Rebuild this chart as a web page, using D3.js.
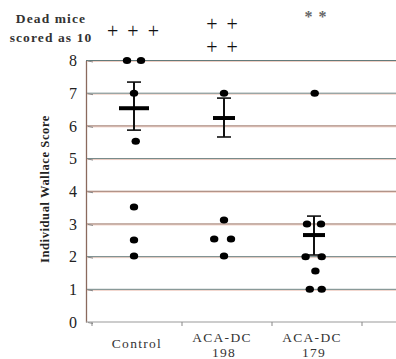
<!DOCTYPE html>
<html>
<head>
<meta charset="utf-8">
<script src="https://cdn.jsdelivr.net/npm/d3@7"></script>
<style>
  body { margin: 0; background: #fff; }
  svg { display: block; }
</style>
</head>
<body>
<div class="container"></div>
<script>
// categories on the x axis (last slot is empty)
const groups = ["Control", "ACA-DC|198", "ACA-DC|179", ""];
const yTicks = [0, 1, 2, 3, 4, 5, 6, 7, 8];

// individual scores: [value, horizontal slot]
const controlDots = [[8, -1], [8, 1], [7, 0], [5.53, 0.25], [3.52, 0], [2.51, 0], [2.02, 0]];
const dc198Dots = [[7, 0], [3.12, 0], [2.54, -1.4], [2.54, 1], [2.02, 0]];
const dc179Dots = [[7, 0.1], [3, -1], [3, 1], [2, -1.2], [2, 1.1], [1.56, 0.2], [1, -0.6], [1, 1.1]];
const dotsByGroup = [controlDots, dc198Dots, dc179Dots];

// mean and error bars
const means = [6.54, 6.24, 2.66];
const upper = [7.34, 6.85, 3.24];
const lower = [5.87, 5.66, 2.05];

// marks above the plot
const deadMarks = [["+ + +"], ["+ +", "+ +"], []];
const sigMarks = ["", "", "* *"];

const W = 396, H = 359;
const M = { left: 86, right: 0, top: 60, bottom: 37 };
const SERIF = "Liberation Serif";

const svg = d3.select(".container")
  .append("svg")
  .attr("xmlns", "http://www.w3.org/2000/svg")
  .attr("width", W)
  .attr("height", H)
  .attr("viewBox", `0 0 ${W} ${H}`);

svg.append("rect")
  .attr("width", W).attr("height", H)
  .attr("fill", "#fff");

const y = d3.scaleLinear()
  .domain([0, 8])
  .range([322, 60.5]);

const x = d3.scaleBand()
  .domain(groups)
  .range([92, 452])
  .padding(0);

const cx = g => x(g) + x.bandwidth() / 2 - 3;
const slot = d3.scaleLinear().domain([-1, 1]).range([-7, 7]);

// grid lines (grey-teal with a faint rust edge)
const gridCol = ["#6f8484", "#6f8484", "#6f8484", "#9a7466", "#9a7466", "#6f8484", "#9a7466", "#6f8484", "#637a7a"];
svg.append("g")
  .selectAll("line")
  .data(yTicks.filter(d => d > 0))
  .join("line")
  .attr("x1", M.left).attr("x2", W)
  .attr("y1", d => y(d) + 1).attr("y2", d => y(d) + 1)
  .attr("stroke", "#efcfc4")
  .attr("stroke-width", 1);
svg.append("g")
  .selectAll("line")
  .data(yTicks.filter(d => d > 0))
  .join("line")
  .attr("x1", M.left).attr("x2", W)
  .attr("y1", d => y(d)).attr("y2", d => y(d))
  .attr("stroke", d => gridCol[d])
  .attr("stroke-width", 1);

// Y axis
const yAxis = svg.append("g")
  .attr("transform", `translate(${M.left},0)`)
  .call(d3.axisLeft(y).tickValues(yTicks).tickSize(0).tickPadding(9))
  .attr("font-family", SERIF)
  .attr("font-size", 16);
yAxis.select(".domain").attr("stroke", "#8a6a5e").attr("stroke-width", 1.3);
yAxis.selectAll("text").attr("fill", "#222");
// little tick stubs right of the axis
yAxis.selectAll(".tick")
  .append("line")
  .attr("x1", 2).attr("x2", 7)
  .attr("y1", 0).attr("y2", 1)
  .attr("stroke", "#888");

// X axis
const xAxis = svg.append("g")
  .attr("transform", `translate(0,${y(0)})`);
xAxis.append("line")
  .attr("x1", M.left).attr("x2", W)
  .attr("stroke", "#999").attr("stroke-width", 1.2);
xAxis.selectAll("line.tk")
  .data(groups)
  .join("line")
  .attr("x1", d => x(d)).attr("x2", d => x(d))
  .attr("y1", 0).attr("y2", 4)
  .attr("stroke", "#888");

// x labels
groups.slice(0, 3).forEach((g, i) => {
  const parts = g.split("|");
  const t = svg.append("text")
    .attr("x", cx(g) + (i === 0 ? 3 : -2))
    .attr("text-anchor", "middle")
    .attr("font-family", SERIF)
    .attr("font-size", 13.5)
    .attr("letter-spacing", 1.3)
    .attr("fill", "#333");
  if (parts.length === 1) {
    t.attr("y", 348).text(parts[0]);
  } else {
    t.append("tspan").attr("x", cx(g) - 2).attr("y", 342).text(parts[0]);
    t.append("tspan").attr("x", cx(g)).attr("y", 357).text(parts[1]);
  }
});

// y title
svg.append("text")
  .attr("transform", "translate(49,189) rotate(-90)")
  .attr("text-anchor", "middle")
  .attr("font-family", SERIF)
  .attr("font-weight", "bold")
  .attr("font-size", 12.5)
  .attr("letter-spacing", 0.6)
  .attr("fill", "#222")
  .text("Individual Wallace Score");

// "Dead mice scored as 10"
const note = svg.append("text")
  .attr("text-anchor", "middle")
  .attr("font-family", SERIF)
  .attr("font-weight", "bold")
  .attr("font-size", 13.5)
  .attr("letter-spacing", 1.1)
  .attr("fill", "#333");
note.append("tspan").attr("x", 51).attr("y", 23).text("Dead mice");
note.append("tspan").attr("x", 51).attr("y", 42).text("scored as 10");

// plus / star marks
groups.slice(0, 3).forEach((g, i) => {
  deadMarks[i].forEach((m, j) => {
    svg.append("text")
      .attr("x", cx(g) + (i === 0 ? 0 : -1))
      .attr("y", (i === 0 ? 38 : 31) + j * 23)
      .attr("text-anchor", "middle")
      .attr("font-family", SERIF)
      .attr("font-size", 20)
      .attr("letter-spacing", 2)
      .attr("fill", "#111")
      .text(m);
  });
  if (sigMarks[i]) {
    svg.append("text")
      .attr("x", cx(g) + 2)
      .attr("y", 22)
      .attr("text-anchor", "middle")
      .attr("font-family", SERIF)
      .attr("font-weight", "bold")
      .attr("font-size", 16)
      .attr("letter-spacing", 1)
      .attr("fill", "#666")
      .text(sigMarks[i]);
  }
});

// error bars and means
const bars = svg.append("g");
groups.slice(0, 3).forEach((g, i) => {
  const c = cx(g);
  bars.append("line")
    .attr("x1", c).attr("x2", c)
    .attr("y1", y(upper[i])).attr("y2", y(lower[i]))
    .attr("stroke", "#111").attr("stroke-width", 2);
  [upper[i], lower[i]].forEach(v => {
    bars.append("line")
      .attr("x1", c - 7).attr("x2", c + 7)
      .attr("y1", y(v)).attr("y2", y(v))
      .attr("stroke", "#111").attr("stroke-width", 1.6);
  });
  const half = i === 0 ? 15 : 11;
  bars.append("line")
    .attr("x1", c - half).attr("x2", c + half)
    .attr("y1", y(means[i])).attr("y2", y(means[i]))
    .attr("stroke", "#000").attr("stroke-width", 4);
});

// dots
groups.slice(0, 3).forEach((g, i) => {
  svg.append("g")
    .selectAll("ellipse")
    .data(dotsByGroup[i])
    .join("ellipse")
    .attr("cx", d => cx(g) + slot(d[1]))
    .attr("cy", d => y(d[0]))
    .attr("rx", 4.2)
    .attr("ry", 3.5)
    .attr("fill", "#000");
});
</script>
</body>
</html>
